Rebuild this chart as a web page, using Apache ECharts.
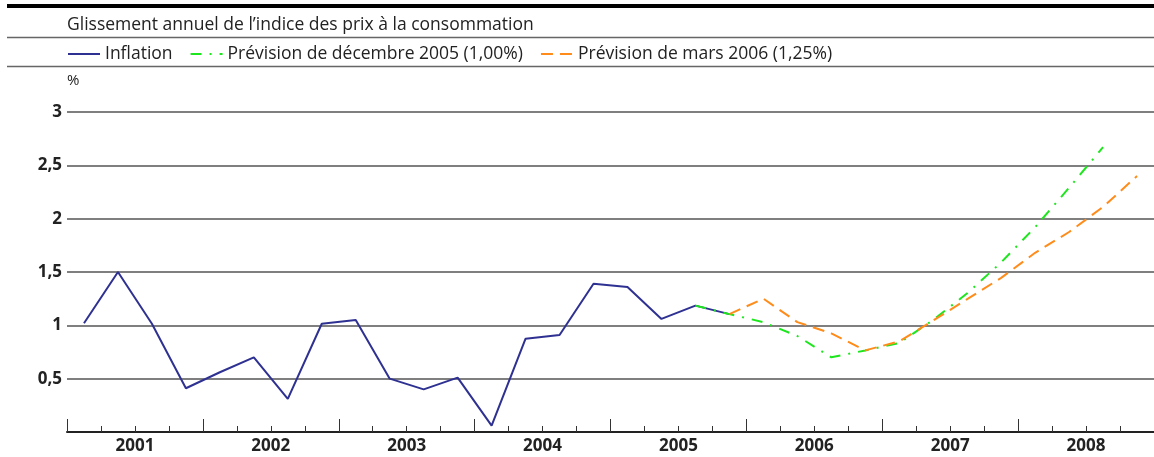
<!DOCTYPE html>
<html>
<head>
<meta charset="utf-8">
<script src="https://cdn.jsdelivr.net/npm/echarts@6/dist/echarts.min.js"></script>
<style>
html,body{margin:0;padding:0;background:#fff;}
#chart{width:1154px;height:457px;}
</style>
</head>
<body>
<div id="chart"></div>
<script>
// ---- data ----
const years = ['2001','2002','2003','2004','2005','2006','2007','2008'];
const quarters = [];
years.forEach(y => { for (let q = 1; q <= 4; q++) quarters.push(y + 'T' + q); });

const inflation = [1.02,1.50,1.015,0.41,0.56,0.70,0.31,1.015,1.05,0.50,0.40,0.51,0.06,0.875,0.91,1.39,1.36,1.06,1.185,1.105];
const prevDec2005 = [1.185,1.105,1.03,0.90,0.70,0.765,0.835,1.05,1.30,1.59,1.92,2.29,2.67]; // from 2005T3
const prevMar2006 = [1.105,1.25,1.03,0.925,0.765,0.85,1.045,1.245,1.445,1.68,1.875,2.11,2.40]; // from 2005T4
const prevDecStart = 18;
const prevMarStart = 19;
const yTickLabels = ['', '0,5', '1', '1,5', '2', '2,5', '3'];

const seriesNames = ['Inflation', 'Prévision de décembre 2005 (1,00%)', 'Prévision de mars 2006 (1,25%)'];
const titleText = 'Glissement annuel de l\u2019indice des prix à la consommation';

function pad(arr, start) {
  const out = new Array(quarters.length).fill(null);
  arr.forEach((v, i) => { out[start + i] = v; });
  return out;
}

const FONT = '"Open Sans", "Noto Sans", sans-serif';
const chart = echarts.init(document.getElementById('chart'));
chart.setOption({
  animation: false,
  backgroundColor: '#fff',
  title: {
    text: titleText,
    left: 62, top: 11,
    textStyle: { fontFamily: FONT, fontSize: 17.5, fontWeight: 'normal', color: '#222' }
  },
  legend: {
    left: 62, top: 40,
    itemWidth: 32, itemHeight: 14, itemGap: 17,
    itemStyle: { opacity: 0 },
    textStyle: { fontFamily: FONT, fontSize: 17.5, color: '#222' },
    data: seriesNames
  },
  graphic: [
    { type: 'rect', shape: { x: 7, y: 4, width: 1147, height: 4 }, style: { fill: '#000' } },
    { type: 'line', shape: { x1: 7, y1: 37.5, x2: 1154, y2: 37.5 }, style: { stroke: '#666', lineWidth: 1.5 } },
    { type: 'line', shape: { x1: 7, y1: 66.5, x2: 1154, y2: 66.5 }, style: { stroke: '#666', lineWidth: 1.5 } }
  ],
  grid: { left: 67, top: 112, width: 1088, height: 320, containLabel: false },
  xAxis: [
    {
      type: 'category', data: quarters, boundaryGap: true, position: 'bottom',
      axisLine: { show: true, lineStyle: { color: '#222', width: 2 } },
      axisTick: { show: true, inside: true, length: 6, interval: 0, lineStyle: { color: '#333', width: 1 } },
      axisLabel: { show: false },
      splitLine: { show: false }
    },
    {
      type: 'category', data: years, boundaryGap: true, position: 'bottom',
      axisLine: { show: false },
      axisTick: { show: true, inside: true, length: 13, interval: 0, lineStyle: { color: '#333', width: 1 } },
      axisLabel: { show: true, interval: 0, margin: 6, fontFamily: FONT, fontSize: 17, fontWeight: 'bold', color: '#222' },
      splitLine: { show: false }
    }
  ],
  yAxis: {
    type: 'value', min: 0, max: 3, interval: 0.5,
    name: '%', nameLocation: 'end', nameGap: 31,
    nameTextStyle: { fontFamily: FONT, fontSize: 15, color: '#222', align: 'left', verticalAlign: 'middle' },
    axisLine: { show: false },
    axisTick: { show: false },
    axisLabel: {
      margin: 5, fontFamily: FONT, fontSize: 17, fontWeight: 'bold', color: '#222',
      formatter: v => yTickLabels[Math.round(v / 0.5)]
    },
    splitLine: { show: true, lineStyle: { color: '#555', width: 1.5 } }
  },
  series: [
    {
      name: seriesNames[0], type: 'line', xAxisIndex: 0, data: pad(inflation, 0),
      symbol: 'none', lineStyle: { color: '#2e3191', width: 2 }, itemStyle: { color: '#2e3191' }
    },
    {
      name: seriesNames[1], type: 'line', xAxisIndex: 0, data: pad(prevDec2005, prevDecStart),
      symbol: 'none', lineStyle: { color: '#1ee61e', width: 2, type: [11, 8, 2, 8] }, itemStyle: { color: '#1ee61e' }
    },
    {
      name: seriesNames[2], type: 'line', xAxisIndex: 0, data: pad(prevMar2006, prevMarStart),
      symbol: 'none', lineStyle: { color: '#ff8c1a', width: 2, type: [12, 7] }, itemStyle: { color: '#ff8c1a' }
    }
  ]
});
</script>
</body>
</html>
